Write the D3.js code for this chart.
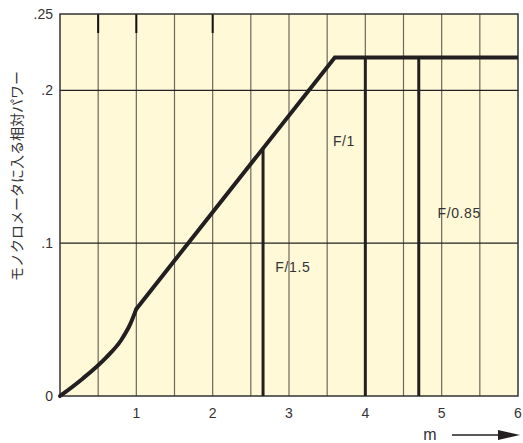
<!DOCTYPE html>
<html>
<head>
<meta charset="utf-8">
<script src="https://cdn.jsdelivr.net/npm/d3@7"></script>
<style>
  body { margin: 0; background: #fff; }
  svg { display: block; font-family: "Liberation Sans", Arial, sans-serif; }
</style>
</head>
<body>
<svg id="chart" width="523" height="443"></svg>
<script>
// curve values (m, relative power)
var curvePoints = [[0, 0], [0.3, 0.0115], [0.6, 0.025], [0.8, 0.0365], [0.92, 0.047], [1, 0.057]];
var linePoints = [[1, 0.057], [3.6, 0.2215], [6, 0.2215]];
// aperture lines
var apertures = ["F/1.5", "F/1", "F/0.85"];
var apertureX = [2.66, 4, 4.7];
var labelX = [3.05, 3.72, 5.23];
var labelY = [0.0845, 0.167, 0.12];
var xTicks = [1, 2, 3, 4, 5, 6];
var xGrid = [0.5, 1, 1.5, 2, 2.5, 3, 3.5, 4, 4.5, 5, 5.5];
var topMarks = [0.5, 1, 2];
var yTicks = [0, 0.1, 0.2, 0.25];
var yTickLabels = ["0", ".1", ".2", ".25"];
var yTitle = "モノクロメータに入る相対パワー";

var svg = d3.select("#chart");
var margin = { top: 14, right: 5, bottom: 47, left: 60 };
var width = 523 - margin.left - margin.right;
var height = 443 - margin.top - margin.bottom;
var g = svg.append("g").attr("transform", "translate(" + margin.left + "," + margin.top + ")");

var x = d3.scaleLinear().domain([0, 6]).range([0, width]);
var y = d3.scaleLinear().domain([0, 0.25]).range([height, 0]);

g.append("rect")
    .attr("width", width)
    .attr("height", height)
    .attr("fill", "#fff9d8");

// vertical grid
g.selectAll(".vgrid")
    .data(xGrid)
    .enter().append("line")
    .attr("x1", function(d) { return x(d); })
    .attr("x2", function(d) { return x(d); })
    .attr("y1", 0)
    .attr("y2", height)
    .attr("stroke", "#6f675a")
    .attr("stroke-width", 1.2);

// horizontal grid
g.selectAll(".hgrid")
    .data([0.1, 0.2])
    .enter().append("line")
    .attr("x1", 0)
    .attr("x2", width)
    .attr("y1", function(d) { return y(d); })
    .attr("y2", function(d) { return y(d); })
    .attr("stroke", "#222")
    .attr("stroke-width", 1.2);

// short marks at top
g.selectAll(".topmark")
    .data(topMarks)
    .enter().append("line")
    .attr("x1", function(d) { return x(d); })
    .attr("x2", function(d) { return x(d); })
    .attr("y1", 0)
    .attr("y2", 19)
    .attr("stroke", "#111")
    .attr("stroke-width", 2);

// frame
g.append("rect")
    .attr("width", width)
    .attr("height", height)
    .attr("fill", "none")
    .attr("stroke", "#333")
    .attr("stroke-width", 1.5);

// aperture lines
g.selectAll(".ap")
    .data(apertureX)
    .enter().append("line")
    .attr("x1", function(d) { return x(d); })
    .attr("x2", function(d) { return x(d); })
    .attr("y1", y(0))
    .attr("y2", function(d) {
        var a = linePoints[0], b = linePoints[1];
        var v = d >= b[0] ? b[1] : a[1] + (d - a[0]) * (b[1] - a[1]) / (b[0] - a[0]);
        return y(v);
    })
    .attr("stroke", "#231f20")
    .attr("stroke-width", 3);

// main curve
var curveLine = d3.line()
    .x(function(d) { return x(d[0]); })
    .y(function(d) { return y(d[1]); })
    .curve(d3.curveMonotoneX);
var straight = d3.line()
    .x(function(d) { return x(d[0]); })
    .y(function(d) { return y(d[1]); });

g.append("path")
    .attr("d", curveLine(curvePoints))
    .attr("fill", "none")
    .attr("stroke", "#231f20")
    .attr("stroke-width", 4)
    .attr("stroke-linecap", "round");
g.append("path")
    .attr("d", straight(linePoints))
    .attr("fill", "none")
    .attr("stroke", "#231f20")
    .attr("stroke-width", 4)
    .attr("stroke-linejoin", "miter");

// labels
g.selectAll(".aplabel")
    .data(apertures)
    .enter().append("text")
    .attr("x", function(d, i) { return x(labelX[i]); })
    .attr("y", function(d, i) { return y(labelY[i]); })
    .attr("dy", "0.35em")
    .attr("text-anchor", "middle")
    .attr("fill", "#333")
    .style("font-size", "14px")
    .style("letter-spacing", "0.6px")
    .text(function(d) { return d; });

// x tick labels
g.selectAll(".xt")
    .data(xTicks)
    .enter().append("text")
    .attr("x", function(d) { return x(d); })
    .attr("y", height + 17)
    .attr("dy", "0.35em")
    .attr("text-anchor", "middle")
    .attr("fill", "#333")
    .style("font-size", "14px")
    .text(function(d) { return d; });

// y tick labels
g.selectAll(".yt")
    .data(yTicks)
    .enter().append("text")
    .attr("x", -7)
    .attr("y", function(d) { return y(d); })
    .attr("dy", "0.35em")
    .attr("text-anchor", "end")
    .attr("fill", "#333")
    .style("font-size", "14px")
    .text(function(d, i) { return yTickLabels[i]; });

// y title
svg.append("text")
    .attr("transform", "translate(17,176) rotate(-90)")
    .attr("text-anchor", "middle")
    .attr("dy", "0.35em")
    .attr("fill", "#333")
    .style("font-family", "'Noto Sans CJK JP', sans-serif")
    .style("font-size", "14px")
    .text(yTitle);

// x title with arrow
svg.append("text")
    .attr("x", 430)
    .attr("y", 435)
    .attr("dy", "0.3em")
    .attr("text-anchor", "middle")
    .attr("fill", "#333")
    .style("font-size", "16px")
    .text("m");
svg.append("line")
    .attr("x1", 452).attr("x2", 505)
    .attr("y1", 435).attr("y2", 435)
    .attr("stroke", "#231f20")
    .attr("stroke-width", 1.3);
svg.append("path")
    .attr("d", "M498,430 L520,435 L498,440 Z")
    .attr("fill", "#231f20");
</script>
</body>
</html>
